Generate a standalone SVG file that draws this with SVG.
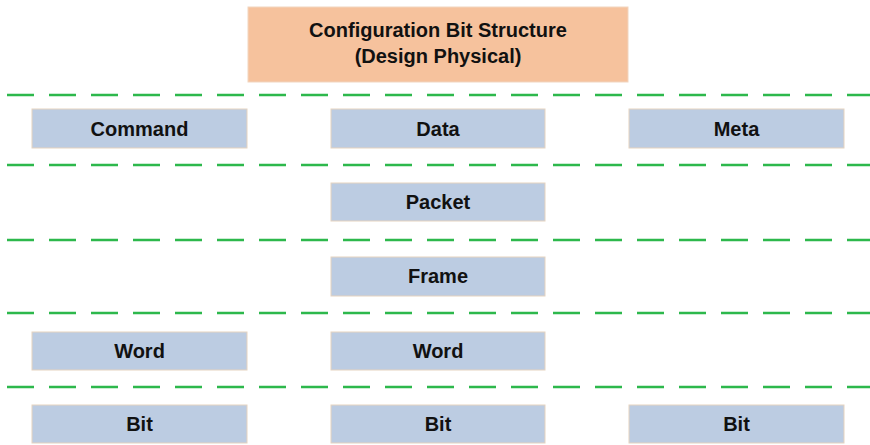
<svg xmlns="http://www.w3.org/2000/svg" width="870" height="445" viewBox="0 0 870 445">
<style>
.box{fill:#BCCCE2;stroke:#E6D3BF;stroke-width:1}
.top{fill:#F6C29D;stroke:#F1D5BF;stroke-width:1}
.lbl{font-family:"Liberation Sans",Arial,sans-serif;font-weight:bold;font-size:20px;fill:#111;text-anchor:middle}
.sep{stroke:#2DB84C;stroke-width:2.5;stroke-dasharray:27 15;fill:none}
</style>
<rect width="870" height="445" fill="#FFFFFF"/>
<g id="separators">
<line class="sep" x1="7" y1="95" x2="870" y2="95"/>
<line class="sep" x1="7" y1="165" x2="870" y2="165"/>
<line class="sep" x1="7" y1="240" x2="870" y2="240"/>
<line class="sep" x1="7" y1="313" x2="870" y2="313"/>
<line class="sep" x1="7" y1="387" x2="870" y2="387"/>
</g>
<g id="config">
<rect class="top" x="248" y="7" width="380" height="75"/>
<text class="lbl" x="438" y="37">Configuration Bit Structure</text>
<text class="lbl" x="438" y="63">(Design Physical)</text>
</g>
<g id="command"><rect class="box" x="32" y="109" width="215" height="39"/><text class="lbl" x="139.5" y="136">Command</text></g>
<g id="data"><rect class="box" x="331" y="109" width="214" height="39"/><text class="lbl" x="438" y="136">Data</text></g>
<g id="meta"><rect class="box" x="629" y="109" width="215" height="39"/><text class="lbl" x="736.5" y="136">Meta</text></g>
<g id="packet"><rect class="box" x="331" y="183" width="214" height="38"/><text class="lbl" x="438" y="209">Packet</text></g>
<g id="frame"><rect class="box" x="331" y="257" width="214" height="39"/><text class="lbl" x="438" y="283">Frame</text></g>
<g id="word1"><rect class="box" x="32" y="332" width="215" height="38"/><text class="lbl" x="139.5" y="358">Word</text></g>
<g id="word2"><rect class="box" x="331" y="332" width="214" height="38"/><text class="lbl" x="438" y="358">Word</text></g>
<g id="bit1"><rect class="box" x="32" y="405" width="215" height="38"/><text class="lbl" x="139.5" y="431">Bit</text></g>
<g id="bit2"><rect class="box" x="331" y="405" width="214" height="38"/><text class="lbl" x="438" y="431">Bit</text></g>
<g id="bit3"><rect class="box" x="629" y="405" width="215" height="38"/><text class="lbl" x="736.5" y="431">Bit</text></g>
</svg>
